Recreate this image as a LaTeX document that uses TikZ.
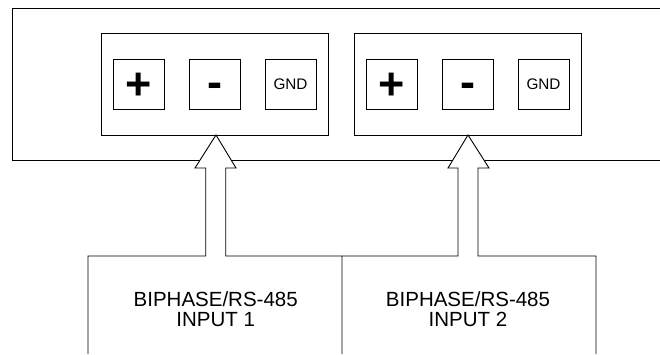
\documentclass[tikz,border=0pt]{standalone}
\usepackage{fontspec}
\setmainfont{Liberation Sans}
\begin{document}
\begin{tikzpicture}[x=1pt,y=-1pt,line width=0.9pt,
  panel/.style={draw,line width=0.9pt,minimum width=227pt,minimum height=102pt,inner sep=0pt},
  term/.style={draw,line width=0.9pt,minimum width=51pt,minimum height=50pt,inner sep=0pt},
  sym/.style={inner sep=0pt,anchor=base,font=\fontsize{45}{45}\selectfont\bfseries},
  gnd/.style={inner sep=0pt,anchor=base,font=\fontsize{15.3}{16}\selectfont},
  lbl/.style={inner sep=0pt,anchor=base,font=\fontsize{20.5}{21}\selectfont}]
\useasboundingbox (0,0) rectangle (660,354);
% outer chassis, open to the right
\draw (660,8) -- (12,8) -- (12,160) -- (660,160);
% input panels
\node[panel] (pa) at (214.5,84) {};
\node[panel] (pb) at (467.5,84) {};
% terminals panel A
\node[term] (pa1) at (138.5,84) {};
\node[term] (pa2) at (214.5,84) {};
\node[term] (pa3) at (290.5,84) {};
\node[sym] (pa1t) at (139,99.5) {+};
\node[sym] (pa2t) at (214.5,97) {-};
\node[gnd] (pa3t) at (290.5,89.3) {GND};
% terminals panel B
\node[term] (pb1) at (391.5,84) {};
\node[term] (pb2) at (467.5,84) {};
\node[term] (pb3) at (543.5,84) {};
\node[sym] (pb1t) at (392,99.5) {+};
\node[sym] (pb2t) at (467.5,97) {-};
\node[gnd] (pb3t) at (543.5,89.3) {GND};
% arrows and source boxes
\coordinate (ta) at (216,135);
\coordinate (tb) at (468,135);
\fill[white] (ta) -- (236,168) -- (225.7,168) -- (225.7,257) -- (205.7,257) -- (205.7,168) -- (195,168) -- cycle;
\fill[white] (tb) -- (489,168) -- (478,168) -- (478,257) -- (458,257) -- (458,168) -- (448,168) -- cycle;
\draw (88,354) -- (88,256) -- (205.7,256) -- (205.7,168) -- (195,168) -- (ta) -- (236,168) -- (225.7,168) -- (225.7,256) -- (342,256) -- (342,354);
\draw (342,256) -- (458,256) -- (458,168) -- (448,168) -- (tb) -- (489,168) -- (478,168) -- (478,256) -- (596,256) -- (596,354);
\node[lbl] (s1a) at (215.7,306.7) {BIPHASE/RS-485};
\node[lbl] (s1b) at (215.7,326.7) {INPUT 1};
\node[lbl] (s2a) at (468,306.7) {BIPHASE/RS-485};
\node[lbl] (s2b) at (468,326.7) {INPUT 2};
\end{tikzpicture}
\end{document}
